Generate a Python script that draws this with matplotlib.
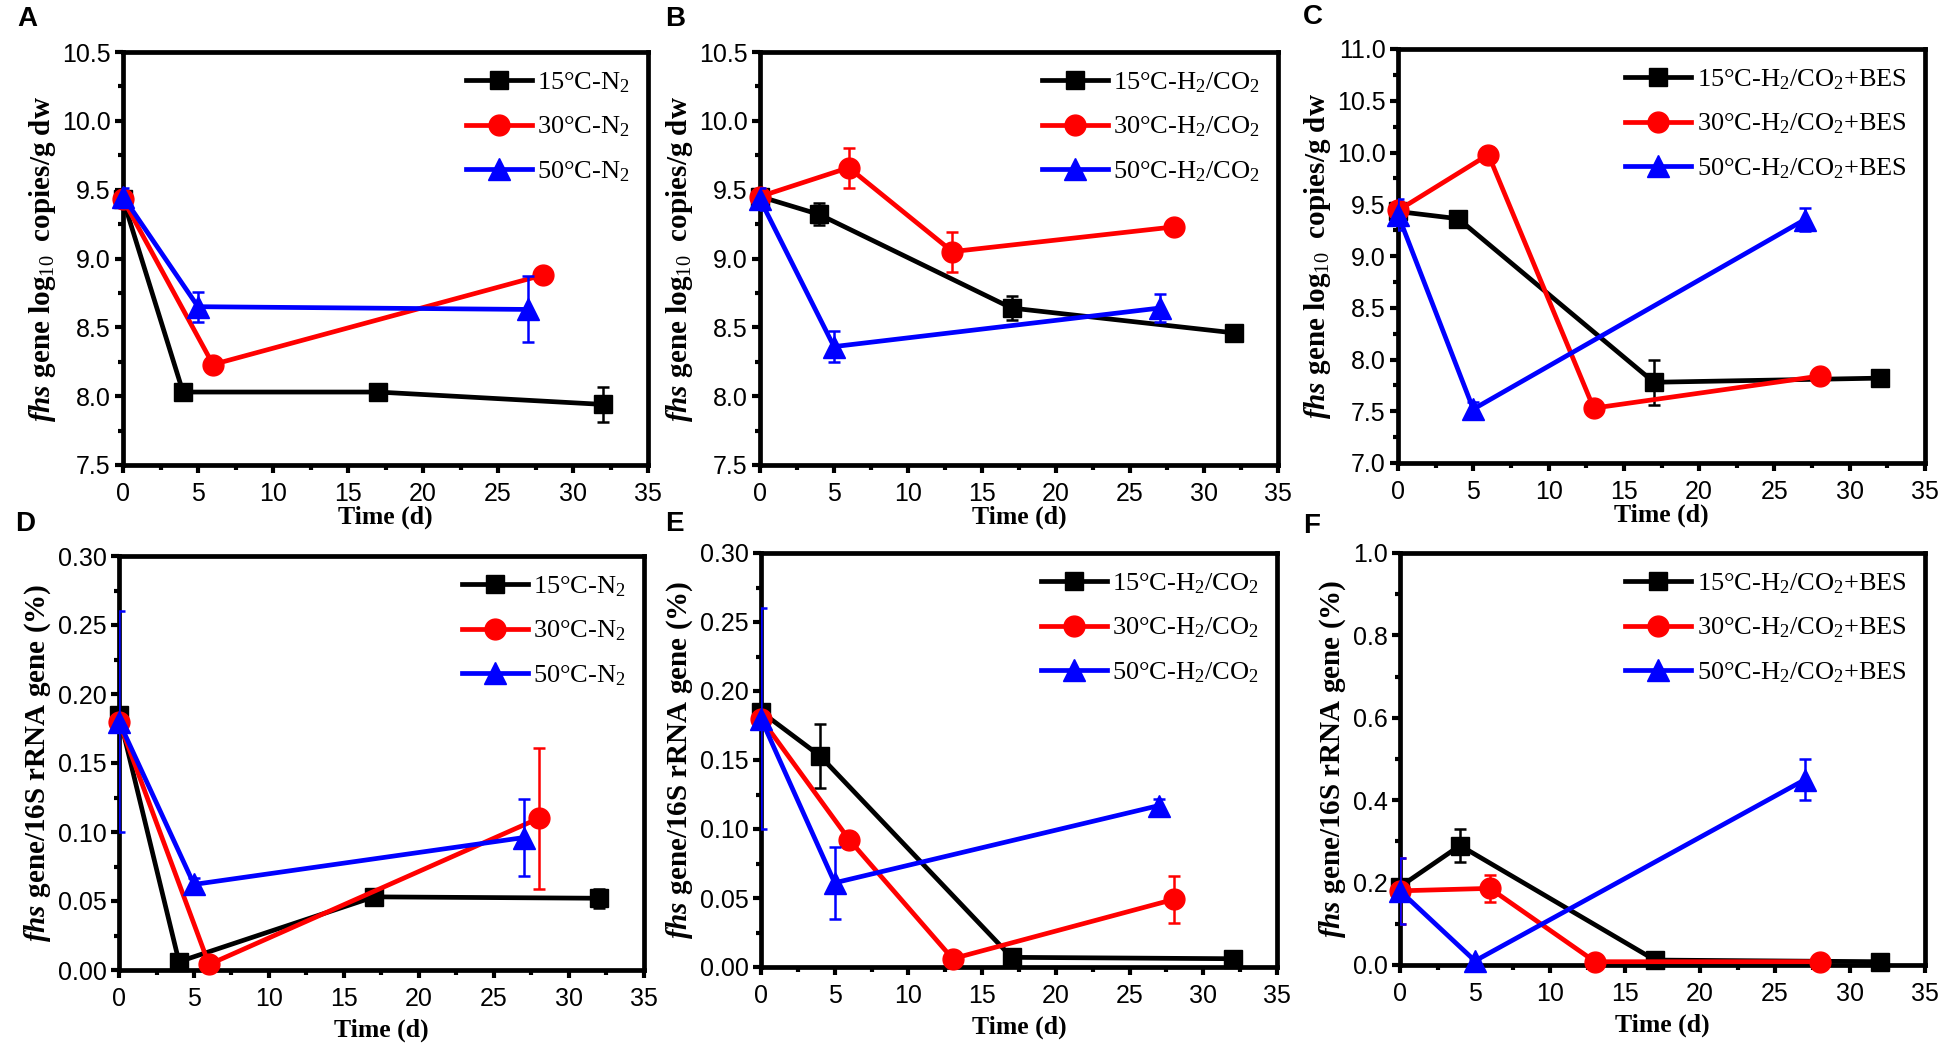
import matplotlib
matplotlib.use("Agg")
import matplotlib.pyplot as plt
from matplotlib.ticker import MultipleLocator, FormatStrFormatter

plt.rcParams['mathtext.fontset'] = 'custom'
plt.rcParams['mathtext.rm'] = 'Liberation Serif'
plt.rcParams['mathtext.it'] = 'Liberation Serif:italic'
plt.rcParams['mathtext.bf'] = 'Liberation Serif:bold'
plt.rcParams['mathtext.bfit'] = 'Liberation Serif:italic:bold'

# sampling days
days15 = [0, 4, 17, 32]
days30_n2 = [0, 6, 28]
days30 = [0, 6, 13, 28]
days50 = [0, 5, 27]

# A: N2, log10 copies
a15 = [9.43, 8.03, 8.03, 7.94]
a15_err = [0.03, 0.02, 0.02, 0.125]
a30 = [9.43, 8.23, 8.88]
a30_err = [0.03, 0.03, 0.03]
a50 = [9.45, 8.65, 8.63]
a50_err = [0.06, 0.11, 0.24]

# B: H2/CO2, log10 copies
b15 = [9.45, 9.32, 8.64, 8.46]
b15_err = [0.02, 0.08, 0.09, 0.05]
b30 = [9.45, 9.66, 9.05, 9.23]
b30_err = [0.02, 0.145, 0.145, 0.03]
b50 = [9.43, 8.36, 8.64]
b50_err = [0.08, 0.115, 0.1]

# C: H2/CO2+BES, log10 copies
c15 = [9.43, 9.36, 7.78, 7.82]
c15_err = [0.03, 0.04, 0.22, 0.08]
c30 = [9.44, 9.98, 7.53, 7.84]
c30_err = [0.05, 0.07, 0.05, 0.05]
c50 = [9.40, 7.52, 9.35]
c50_err = [0.15, 0.07, 0.11]

# D: N2, fhs/16S (%)
d15 = [0.185, 0.006, 0.053, 0.052]
d15_err = [0.005, 0.003, 0.004, 0.007]
d30 = [0.18, 0.004, 0.110]
d30_err = [0.005, 0.002, 0.051]
d50 = [0.18, 0.062, 0.096]
d50_err = [0.08, 0.005, 0.028]

# E: H2/CO2, fhs/16S (%)
e15 = [0.185, 0.153, 0.007, 0.006]
e15_err = [0.005, 0.023, 0.002, 0.002]
e30 = [0.18, 0.092, 0.006, 0.049]
e30_err = [0.005, 0.006, 0.003, 0.017]
e50 = [0.18, 0.061, 0.117]
e50_err = [0.08, 0.026, 0.005]

# F: H2/CO2+BES, fhs/16S (%)
f15 = [0.19, 0.29, 0.012, 0.008]
f15_err = [0.01, 0.04, 0.005, 0.005]
f30 = [0.18, 0.186, 0.008, 0.008]
f30_err = [0.08, 0.032, 0.005, 0.005]
f50 = [0.18, 0.01, 0.45]
f50_err = [0.08, 0.005, 0.05]

labels_n2 = ["15°C-N$_2$", "30°C-N$_2$", "50°C-N$_2$"]
labels_h2 = ["15°C-H$_2$/CO$_2$", "30°C-H$_2$/CO$_2$", "50°C-H$_2$/CO$_2$"]
labels_bes = ["15°C-H$_2$/CO$_2$+BES", "30°C-H$_2$/CO$_2$+BES", "50°C-H$_2$/CO$_2$+BES"]

ylab_top = r"$\mathbfit{fhs}$ gene log$_{10}\ \ $copies/g dw"
ylab_bot = r"$\mathbfit{fhs}$ gene/16S rRNA gene (%)"

colors = ['black', '#ff0000', '#0000ff']
markers = ['s', 'o', '^']
msizes = [13.5, 15, 16]

W, H = 1950, 1053
fig = plt.figure(figsize=(W / 100, H / 100), dpi=100)


def px_box(left, top, right, bottom):
    return [left / W, 1 - bottom / H, (right - left) / W, (bottom - top) / H]


panels = [
    ("A", px_box(123, 52, 648, 465), [(days15, a15, a15_err), (days30_n2, a30, a30_err), (days50, a50, a50_err)],
     labels_n2, (7.5, 10.5), 0.5, '%.1f', ylab_top, (17, 6), 0),
    ("B", px_box(760, 52, 1278, 465), [(days15, b15, b15_err), (days30, b30, b30_err), (days50, b50, b50_err)],
     labels_h2, (7.5, 10.5), 0.5, '%.1f', ylab_top, (665, 6), 0),
    ("C", px_box(1398, 49, 1925, 463), [(days15, c15, c15_err), (days30, c30, c30_err), (days50, c50, c50_err)],
     labels_bes, (7.0, 11.0), 0.5, '%.1f', ylab_top, (1303, 4), 0),
    ("D", px_box(119, 556, 644, 970), [(days15, d15, d15_err), (days30_n2, d30, d30_err), (days50, d50, d50_err)],
     labels_n2, (0.0, 0.30), 0.05, '%.2f', ylab_bot, (15, 511), 6),
    ("E", px_box(761, 553, 1277, 967), [(days15, e15, e15_err), (days30, e30, e30_err), (days50, e50, e50_err)],
     labels_h2, (0.0, 0.30), 0.05, '%.2f', ylab_bot, (665, 511), 6),
    ("F", px_box(1400, 553, 1925, 965), [(days15, f15, f15_err), (days30, f30, f30_err), (days50, f50, f50_err)],
     labels_bes, (0.0, 1.0), 0.2, '%.1f', ylab_bot, (1303, 513), 6),
]

for letter, box, series, labels, ylim, ystep, yfmt, ylab, lpos, xpad in panels:
    ax = fig.add_axes(box)
    for i, (x, y, err) in enumerate(series):
        ax.errorbar(x, y, yerr=err, fmt='none', ecolor=colors[i], elinewidth=1.8,
                    capsize=4.5, capthick=1.8, zorder=2 + i)
        ax.plot(x, y, color=colors[i], lw=3.4, marker=markers[i], ms=msizes[i],
                label=labels[i], zorder=3 + i, clip_on=False)
    ax.set_xlim(0, 35)
    ax.set_ylim(*ylim)
    ax.xaxis.set_major_locator(MultipleLocator(5))
    ax.xaxis.set_minor_locator(MultipleLocator(2.5))
    ax.yaxis.set_major_locator(MultipleLocator(ystep))
    ax.yaxis.set_minor_locator(MultipleLocator(ystep / 2))
    ax.yaxis.set_major_formatter(FormatStrFormatter(yfmt))
    for s in ax.spines.values():
        s.set_linewidth(3.4)
    ax.tick_params(which='major', direction='out', length=6, width=3, labelsize=18, pad=3)
    ax.tick_params(axis='x', which='major', pad=6)
    ax.tick_params(which='minor', direction='out', length=3.5, width=3)
    for t in ax.get_xticklabels() + ax.get_yticklabels():
        t.set_family('Liberation Sans')
    ax.set_xlabel("Time (d)", family='Liberation Serif', fontweight='bold', fontsize=18.5, labelpad=xpad)
    ax.set_ylabel(ylab, family='Liberation Serif', fontweight='bold', fontsize=21, labelpad=3)
    ax.legend(loc='upper right', frameon=False, prop={'family': 'Liberation Serif', 'size': 19},
              handlelength=2.5, handletextpad=0.2, labelspacing=0.75, borderaxespad=0.3)
    fig.text(lpos[0] / W, 1 - lpos[1] / H, letter, ha='left', va='top',
             family='Liberation Sans', fontweight='bold', fontsize=20)

fig.savefig("out.png", dpi=100)
